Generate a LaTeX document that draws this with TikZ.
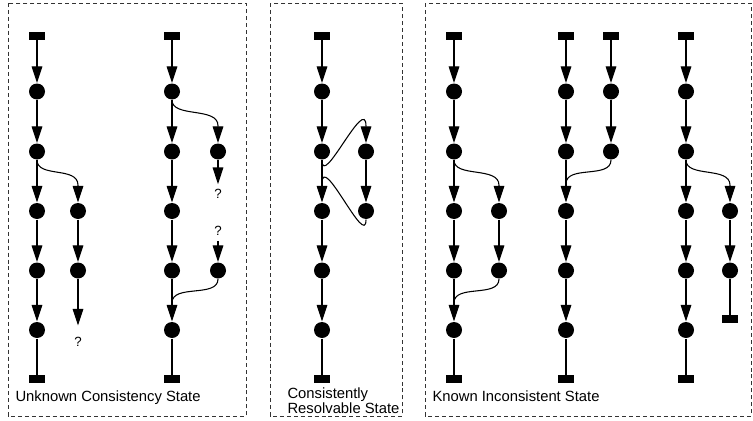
\documentclass[tikz,border=0pt]{standalone}
\usepackage{fontspec}
\setmainfont{Liberation Sans}
\usetikzlibrary{arrows.meta}

\tikzset{
  event/.style={circle,fill,inner sep=0pt,minimum size=12pt},
  endbar/.style={rectangle,fill,inner sep=0pt,minimum width=12pt,minimum height=5.5pt},
  unknown/.style={inner sep=3.5pt,font=\fontsize{10}{12}\selectfont},
  flow/.style={-{Triangle[width=8pt,length=12.5pt]}},
  region/.style={dash pattern=on 3pt off 2.2pt,line width=0.6pt,black!80},
  caption/.style={inner sep=0pt,anchor=base west}
}

\begin{document}
\begin{tikzpicture}[x=0.75pt,y=-0.75pt,line width=0.8pt,font=\fontsize{11.1}{13}\selectfont]
\useasboundingbox (0,0) rectangle (753,421);

% the three states
\draw[region] (8,3) rectangle (246,416);
\draw[region] (270,3) rectangle (402,416);
\draw[region] (425,3) rectangle (751,416);

% main histories
\foreach \col/\x in {a/37,c/172,e/322,g/454,i/566,k/686}{
  \node[endbar] (\col0) at (\x,36) {};
  \foreach \r/\y in {1/91.5,2/151.5,3/211,4/270.5,5/330}
    \node[event] (\col\r) at (\x,\y) {};
  \node[endbar] (\col6) at (\x,379) {};
  \foreach \r [count=\s] in {0,...,4}
    \draw[flow] (\col\r) -- (\col\s);
  \draw (\col5) -- (\col6);
}

% side histories
\node[event] (b3) at (78,211) {};
\node[event] (b4) at (78,270.5) {};
\node[unknown] (bq) at (78,342) {?};
\node[event] (d2) at (218,151.5) {};
\node[unknown] (dq1) at (218,194) {?};
\node[unknown] (dq2) at (218,231) {?};
\node[event] (d4) at (218,270.5) {};
\node[event] (f2) at (366,151.5) {};
\node[event] (f3) at (366,211) {};
\node[event] (h3) at (499,211) {};
\node[event] (h4) at (499,270.5) {};
\node[endbar] (j0) at (611,36) {};
\node[event] (j1) at (611,91.5) {};
\node[event] (j2) at (611,151.5) {};
\node[event] (l3) at (730,211) {};
\node[event] (l4) at (730,270.5) {};
\node[endbar] (l5) at (730,319) {};

\draw[flow] (b3) -- (b4);
\draw[flow,shorten >=5pt] (b4) -- (bq);
\draw[flow] (d2) -- (dq1);
\draw[flow] (dq2) -- (d4);
\draw[flow] (f2) -- (f3);
\draw[flow] (h3) -- (h4);
\draw[flow] (j0) -- (j1);
\draw[flow] (j1) -- (j2);
\draw[flow] (l3) -- (l4);
\draw (l4) -- (l5);

% forks and joins
\draw[flow] (a2.south) .. controls +(0,18) and +(0,-19) .. ([yshift=13pt]b3.north) -- (b3);
\draw[flow] (c1.south) .. controls +(0,18) and +(0,-19) .. ([yshift=13pt]d2.north) -- (d2);
\draw (d4.south) .. controls +(0,19) and +(0,-19) .. ([yshift=14pt]c5.north);
\draw[flow] (e2.south) .. controls +(0,30) and +(0,-33) .. ([yshift=12.5pt]f2.north) -- (f2);
\draw (f3.south) .. controls +(0,30) and +(0,-33) .. ([yshift=14pt]e3.north);
\draw[flow] (g2.south) .. controls +(0,18) and +(0,-19) .. ([yshift=13pt]h3.north) -- (h3);
\draw (h4.south) .. controls +(0,19) and +(0,-19) .. ([yshift=14pt]g5.north);
\draw (j2.south) .. controls +(0,19) and +(0,-19) .. ([yshift=14pt]i3.north);
\draw[flow] (k2.south) .. controls +(0,18) and +(0,-19) .. ([yshift=13pt]l3.north) -- (l3);

% captions
\node[caption] (unk) at (15,401) {Unknown Consistency State};
\node[caption] (res1) at (287,398) {Consistently};
\node[caption] (res2) at (287,413) {Resolvable State};
\node[caption] (inc) at (432,401) {Known Inconsistent State};
\end{tikzpicture}
\end{document}
